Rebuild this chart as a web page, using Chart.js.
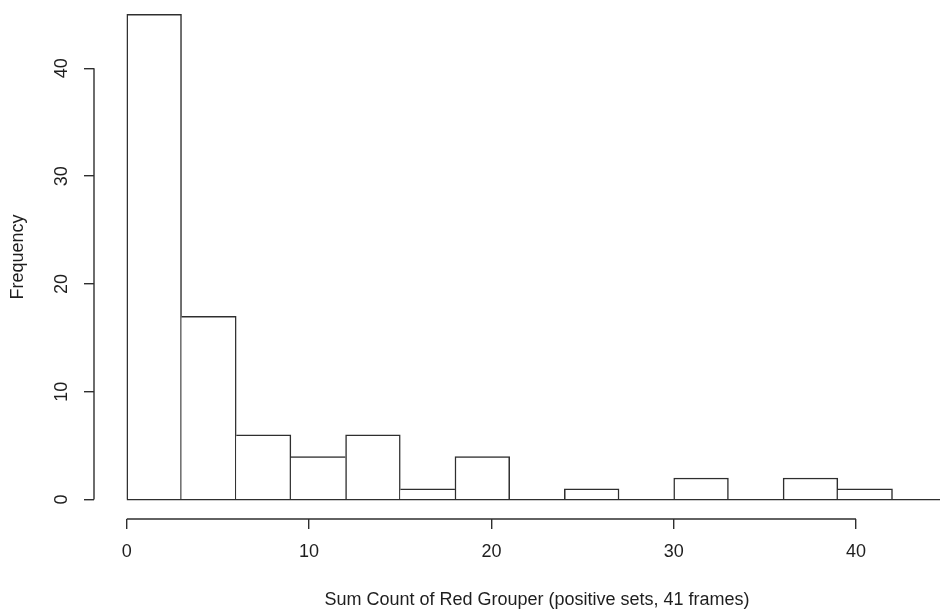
<!DOCTYPE html>
<html>
<head>
<meta charset="utf-8">
<script src="https://cdn.jsdelivr.net/npm/chart.js@4.4.0/dist/chart.umd.min.js"></script>
<style>
  html, body { margin: 0; padding: 0; background: #fff; overflow: hidden; }
  /* plot region runs a little past the right and top edges of the window */
  #wrap { position: relative; width: 940px; height: 614px; overflow: hidden; }
  #hist { position: absolute; left: 0; top: -5px; }
</style>
</head>
<body>
<div id="wrap"><canvas id="hist" width="980" height="619"></canvas></div>
<script>
// histogram bins (left edges) and counts
const binStart = [0, 3, 6, 9, 12, 15, 18, 21, 24, 27, 30, 33, 36, 39];
const binWidth = 3;
const counts = [45, 17, 6, 4, 6, 1, 4, 0, 1, 0, 2, 0, 2, 1];
const xTicks = [0, 10, 20, 30, 40];
const yTicks = [0, 10, 20, 30, 40];

const INK = '#2e2e2e';
const TEXT = '#1e1e1e';
const FONT = '"Liberation Sans", Arial, sans-serif';
const SIZE = 18;
const LW = 1.5;

// shared edges between neighbouring bins are drawn once, by the taller bin
function edgeWidths(ctx) {
  const i = ctx.dataIndex;
  const c = counts[i];
  const prev = i > 0 ? counts[i - 1] : 0;
  const next = i < counts.length - 1 ? counts[i + 1] : 0;
  return { top: LW, bottom: 0, left: prev <= c ? LW : 0, right: next < c ? LW : 0 };
}

// R-style axes: the axis line only spans first..last tick, y labels rotated
const rAxes = {
  id: 'rAxes',
  afterDraw(chart) {
    const { ctx, chartArea, scales: { x, y } } = chart;
    ctx.save();
    ctx.strokeStyle = INK;
    ctx.lineWidth = 1.4;

    const yBase = y.getPixelForValue(0);
    ctx.beginPath();
    ctx.moveTo(x.getPixelForValue(binStart[0]), yBase);
    ctx.lineTo(chart.width, yBase);
    ctx.stroke();

    const xb = chartArea.bottom;
    ctx.beginPath();
    ctx.moveTo(x.getPixelForValue(xTicks[0]), xb);
    ctx.lineTo(x.getPixelForValue(xTicks[xTicks.length - 1]), xb);
    ctx.stroke();

    const yl = chartArea.left;
    ctx.beginPath();
    ctx.moveTo(yl, y.getPixelForValue(yTicks[0]));
    ctx.lineTo(yl, y.getPixelForValue(yTicks[yTicks.length - 1]));
    ctx.stroke();

    ctx.fillStyle = TEXT;
    ctx.font = SIZE + 'px ' + FONT;
    ctx.textAlign = 'center';
    ctx.textBaseline = 'middle';
    yTicks.forEach(v => {
      ctx.save();
      ctx.translate(chartArea.left - 32, y.getPixelForValue(v));
      ctx.rotate(-Math.PI / 2);
      ctx.fillText(String(v), 0, 0);
      ctx.restore();
    });
    ctx.restore();
  }
};

new Chart(document.getElementById('hist'), {
  type: 'bar',
  data: {
    datasets: [{
      data: binStart.map((b, i) => ({ x: b + binWidth / 2, y: counts[i] })),
      backgroundColor: '#ffffff',
      borderColor: INK,
      borderWidth: edgeWidths,
      borderSkipped: false,
      barPercentage: 1,
      categoryPercentage: 1,
    }],
  },
  options: {
    responsive: false,
    devicePixelRatio: 1,
    animation: false,
    events: [],
    layout: { padding: 0 },
    plugins: { legend: { display: false }, tooltip: { enabled: false } },
    scales: {
      x: {
        type: 'linear',
        offset: false,
        min: -1.8,
        max: 46.8,
        afterBuildTicks: s => { s.ticks = xTicks.map(v => ({ value: v })); },
        afterFit: s => { s.height = 95; },
        grid: { display: true, offset: false, drawOnChartArea: false, drawTicks: true, tickLength: 10, color: INK, lineWidth: 1.4 },
        border: { display: false },
        ticks: { color: TEXT, font: { family: FONT, size: SIZE }, padding: 12, maxRotation: 0 },
        title: {
          display: true,
          text: 'Sum Count of Red Grouper (positive sets, 41 frames)',
          color: TEXT,
          font: { family: FONT, size: SIZE },
          padding: { top: 0, bottom: 3 },
        },
      },
      y: {
        min: -1.8,
        max: 46.8,
        afterBuildTicks: s => { s.ticks = yTicks.map(v => ({ value: v })); },
        afterFit: s => { s.width = 94; },
        grid: { display: true, drawOnChartArea: false, drawTicks: true, tickLength: 10, color: INK, lineWidth: 1.4 },
        border: { display: false },
        ticks: { display: false },
        title: {
          display: true,
          text: 'Frequency',
          color: TEXT,
          font: { family: FONT, size: SIZE },
          padding: { top: 7, bottom: 0 },
        },
      },
    },
  },
  plugins: [rAxes],
});
</script>
</body>
</html>
